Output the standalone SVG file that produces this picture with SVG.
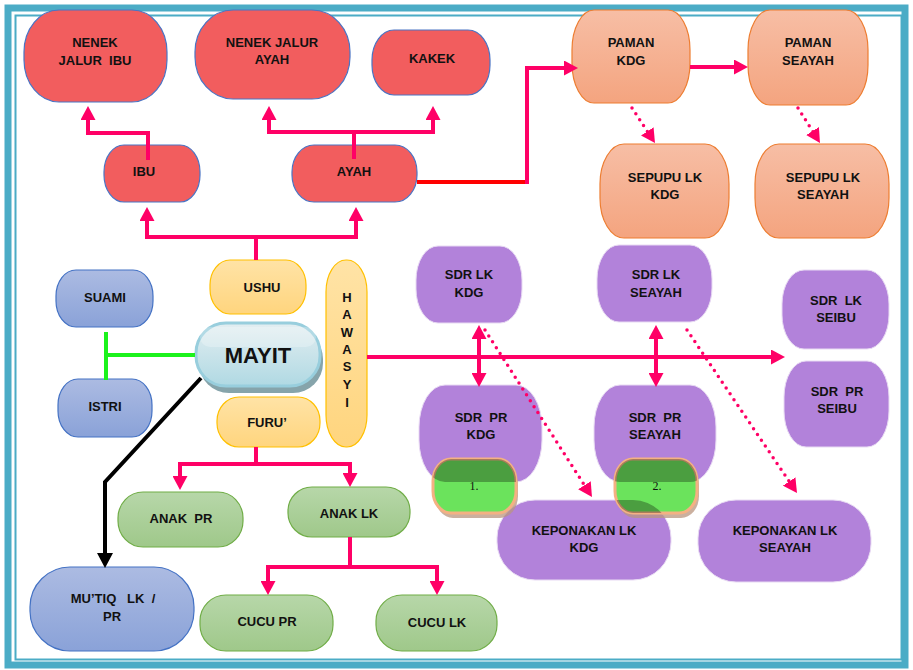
<svg xmlns="http://www.w3.org/2000/svg" width="913" height="670" viewBox="0 0 913 670">
<style>
.t{font-family:"Liberation Sans",Arial,sans-serif;font-weight:bold;font-size:13px;fill:#111;text-anchor:middle;white-space:pre}
.red{fill:#F25D5E;stroke:#4A74C4;stroke-width:1.2}
.org{fill:url(#gOrg);stroke:#ED7D31;stroke-width:1.2}
.pur{fill:#B282DA;stroke:#E8DAF3;stroke-width:1}
.grn{fill:url(#gGrn);stroke:#70AD47;stroke-width:1.2}
.blu{fill:url(#gBlu);stroke:#4472C4;stroke-width:1.2}
.yel{fill:url(#gYel);stroke:#FFC000;stroke-width:1.2}
.pk{fill:none;stroke:#FF0066;stroke-width:4}
.dot{fill:none;stroke:#FF0066;stroke-width:3.5;stroke-linecap:round;stroke-dasharray:0 7}
.bdg{fill:#6CE35C;stroke:#F4B183;stroke-width:3}
.num{font-family:"Liberation Serif","Times New Roman",serif;font-size:12px;fill:#111;text-anchor:middle}
</style>
<defs>
<linearGradient id="gOrg" x1="0" y1="0" x2="0" y2="1"><stop offset="0" stop-color="#F7BEA5"/><stop offset="1" stop-color="#F4A47F"/></linearGradient>
<linearGradient id="gGrn" x1="0" y1="0" x2="0" y2="1"><stop offset="0" stop-color="#B7D7A9"/><stop offset="1" stop-color="#9FC88A"/></linearGradient>
<linearGradient id="gBlu" x1="0" y1="0" x2="0" y2="1"><stop offset="0" stop-color="#ACBBE2"/><stop offset="1" stop-color="#8AA2D8"/></linearGradient>
<linearGradient id="gYel" x1="0" y1="0" x2="0" y2="1"><stop offset="0" stop-color="#FFE3A6"/><stop offset="1" stop-color="#FFD57E"/></linearGradient>
<linearGradient id="gMay" x1="0" y1="0" x2="0" y2="1"><stop offset="0" stop-color="#E3EEF1"/><stop offset="1" stop-color="#B0D9E3"/></linearGradient>
<marker id="ap" viewBox="0 0 14 15" refX="2" refY="7.5" markerWidth="14" markerHeight="15" markerUnits="userSpaceOnUse" orient="auto-start-reverse"><path d="M0,0 L14,7.5 L0,15 z" fill="#FF0066"/></marker>
<marker id="ab" viewBox="0 0 15 16" refX="2" refY="8" markerWidth="15" markerHeight="16" markerUnits="userSpaceOnUse" orient="auto"><path d="M0,0 L15,8 L0,16 z" fill="#000"/></marker>
<clipPath id="cb1"><rect x="433" y="459" width="83" height="54" rx="18" ry="22"/></clipPath>
<clipPath id="cb2"><rect x="615" y="459" width="82" height="54" rx="18" ry="22"/></clipPath>
</defs>
<rect x="0" y="0" width="913" height="670" fill="#fff"/>
<rect x="8" y="8" width="897" height="657" fill="none" stroke="#4BACC6" stroke-width="7"/>
<rect x="15.5" y="15.5" width="886" height="644" fill="none" stroke="#4BACC6" stroke-width="2"/>

<g id="nenek-ibu"><rect class="red" x="24" y="10" width="143" height="92" rx="35" ry="42"/><text class="t" x="95" y="47">NENEK</text><text class="t" x="95" y="65">JALUR  IBU</text></g>
<g id="nenek-ayah"><rect class="red" x="195" y="10" width="155" height="89" rx="38" ry="42"/><text class="t" x="272" y="47">NENEK JALUR</text><text class="t" x="272" y="64">AYAH</text></g>
<g id="kakek"><rect class="red" x="372" y="30" width="118" height="65" rx="22" ry="30"/><text class="t" x="432" y="63">KAKEK</text></g>
<g id="ibu"><rect class="red" x="104" y="145" width="96" height="57" rx="20" ry="27"/><text class="t" x="144" y="176">IBU</text></g>
<g id="ayah"><rect class="red" x="292" y="145" width="125" height="57" rx="22" ry="27"/><text class="t" x="354" y="176">AYAH</text></g>
<g id="paman-kdg"><rect class="org" x="572" y="10" width="118" height="93" rx="22" ry="40"/><text class="t" x="631" y="47">PAMAN</text><text class="t" x="631" y="65">KDG</text></g>
<g id="paman-seayah"><rect class="org" x="748" y="10" width="120" height="95" rx="22" ry="40"/><text class="t" x="808" y="47">PAMAN</text><text class="t" x="808" y="65">SEAYAH</text></g>
<g id="sepupu-kdg"><rect class="org" x="600" y="144" width="129" height="94" rx="24" ry="40"/><text class="t" x="665" y="182">SEPUPU LK</text><text class="t" x="665" y="199">KDG</text></g>
<g id="sepupu-seayah"><rect class="org" x="755" y="144" width="134" height="94" rx="24" ry="40"/><text class="t" x="823" y="182">SEPUPU LK</text><text class="t" x="823" y="199">SEAYAH</text></g>
<g id="ushu"><rect class="yel" x="210" y="260" width="96" height="54" rx="20" ry="25"/><text class="t" x="262" y="292">USHU</text></g>
<g id="hawasyi"><rect class="yel" x="326" y="260" width="41" height="187" rx="20" ry="32"/>
<text class="t" x="347" y="302">H</text><text class="t" x="347" y="319">A</text><text class="t" x="347" y="337">W</text><text class="t" x="347" y="354">A</text><text class="t" x="347" y="371">S</text><text class="t" x="347" y="389">Y</text><text class="t" x="347" y="407">I</text></g>
<g id="suami"><rect class="blu" x="56" y="270" width="97" height="57" rx="20" ry="26"/><text class="t" x="105" y="302">SUAMI</text></g>
<g id="istri"><rect class="blu" x="58" y="379" width="94" height="58" rx="20" ry="26"/><text class="t" x="105" y="411">ISTRI</text></g>
<g id="mayit"><rect x="199" y="329" width="124" height="64" rx="30" ry="30" fill="#86A4AB"/><rect x="196" y="323" width="124" height="63" rx="30" ry="30" fill="url(#gMay)" stroke="#98CEDD" stroke-width="3"/><rect x="200" y="327" width="116" height="20" rx="10" ry="10" fill="#fff" opacity="0.25"/><text x="258" y="363" style="font-family:'Liberation Sans',Arial,sans-serif;font-weight:bold;font-size:22px;fill:#111;text-anchor:middle">MAYIT</text></g>
<g id="furu"><rect class="yel" x="217" y="397" width="103" height="50" rx="22" ry="24"/><text class="t" x="267" y="427">FURU’</text></g>
<g id="sdr-lk-kdg"><rect class="pur" x="416" y="246" width="106" height="77" rx="22" ry="34"/><text class="t" x="469" y="279">SDR LK</text><text class="t" x="469" y="297">KDG</text></g>
<g id="sdr-lk-seayah"><rect class="pur" x="597" y="245" width="115" height="77" rx="22" ry="34"/><text class="t" x="656" y="279">SDR LK</text><text class="t" x="656" y="297">SEAYAH</text></g>
<g id="sdr-lk-seibu"><rect class="pur" x="782" y="270" width="107" height="79" rx="22" ry="34"/><text class="t" x="836" y="305">SDR  LK</text><text class="t" x="836" y="322">SEIBU</text></g>
<g id="sdr-pr-seibu"><rect class="pur" x="784" y="361" width="105" height="86" rx="22" ry="36"/><text class="t" x="837" y="396">SDR  PR</text><text class="t" x="837" y="413">SEIBU</text></g>
<g id="sdr-pr-kdg"><rect class="pur" x="419" y="385" width="123" height="97" rx="26" ry="42"/><text class="t" x="481" y="422">SDR  PR</text><text class="t" x="481" y="439">KDG</text></g>
<g id="sdr-pr-seayah"><rect class="pur" x="594" y="385" width="122" height="97" rx="26" ry="42"/><text class="t" x="655" y="422">SDR  PR</text><text class="t" x="655" y="439">SEAYAH</text></g>
<g id="kepo-kdg"><rect class="pur" x="497" y="500" width="174" height="80" rx="38" ry="38"/><text class="t" x="584" y="535">KEPONAKAN LK</text><text class="t" x="584" y="552">KDG</text></g>
<g id="kepo-seayah"><rect class="pur" x="698" y="500" width="173" height="82" rx="38" ry="38"/><text class="t" x="785" y="535">KEPONAKAN LK</text><text class="t" x="785" y="552">SEAYAH</text></g>
<g id="badge-1"><rect x="435" y="463" width="83" height="55" rx="18" ry="22" fill="#B9957F" opacity="0.75"/><rect class="bdg" x="433" y="459" width="83" height="54" rx="18" ry="22"/>
<g clip-path="url(#cb1)" opacity="0.3"><rect x="419" y="385" width="123" height="97" rx="26" ry="42"/><rect x="497" y="500" width="174" height="80" rx="38" ry="38"/></g>
<text class="num" x="474" y="490">1.</text></g>
<g id="badge-2"><rect x="617" y="463" width="82" height="55" rx="18" ry="22" fill="#B9957F" opacity="0.75"/><rect class="bdg" x="615" y="459" width="82" height="54" rx="18" ry="22"/>
<g clip-path="url(#cb2)" opacity="0.3"><rect x="594" y="385" width="122" height="97" rx="26" ry="42"/><rect x="497" y="500" width="174" height="80" rx="38" ry="38"/></g>
<text class="num" x="657" y="490">2.</text></g>
<g id="anak-pr"><rect class="grn" x="118" y="492" width="125" height="55" rx="25" ry="26"/><text class="t" x="181" y="523">ANAK  PR</text></g>
<g id="anak-lk"><rect class="grn" x="288" y="487" width="122" height="50" rx="24" ry="24"/><text class="t" x="349" y="518">ANAK LK</text></g>
<g id="mutiq"><rect class="blu" x="30" y="567" width="164" height="84" rx="40" ry="40"/><text class="t" x="113" y="603">MU’TIQ   LK  /</text><text class="t" x="112" y="621">PR</text></g>
<g id="cucu-pr"><rect class="grn" x="200" y="595" width="133" height="56" rx="26" ry="26"/><text class="t" x="267" y="626">CUCU PR</text></g>
<g id="cucu-lk"><rect class="grn" x="376" y="595" width="121" height="56" rx="26" ry="26"/><text class="t" x="437" y="627">CUCU LK</text></g>

<g id="connectors">
<path class="pk" d="M148,160 V133 H88 V118" marker-end="url(#ap)"/>
<path class="pk" d="M354,159 V132"/>
<path class="pk" d="M269,118 V132 H433 V118" marker-start="url(#ap)" marker-end="url(#ap)"/>
<path class="pk" d="M256,260 V237"/>
<path class="pk" d="M147,219 V237 H356 V219" marker-start="url(#ap)" marker-end="url(#ap)"/>
<path d="M417,182 H529" fill="none" stroke="#FF0000" stroke-width="4"/>
<path class="pk" d="M527,184 V68 H566" marker-end="url(#ap)"/>
<path class="pk" d="M690,67 H736" marker-end="url(#ap)"/>
<path class="dot" d="M632,108 L648.4,133" marker-end="url(#ap)"/>
<path class="dot" d="M798,108 L813.6,132.8" marker-end="url(#ap)"/>
<path class="dot" d="M485,330 L585.5,486.9" marker-end="url(#ap)"/>
<path class="dot" d="M687,330 L790.3,483.1" marker-end="url(#ap)"/>
<path class="pk" d="M479,337 V375" marker-start="url(#ap)" marker-end="url(#ap)"/>
<path class="pk" d="M656,337 V375" marker-start="url(#ap)" marker-end="url(#ap)"/>
<path class="pk" d="M367,357 H773" marker-end="url(#ap)"/>
<path d="M195,355 H106 M106,332 V380" fill="none" stroke="#1CF21C" stroke-width="4"/>
<path d="M201,378 L105,482 V555" fill="none" stroke="#000" stroke-width="4" marker-end="url(#ab)"/>
<path class="pk" d="M256,447 V464"/>
<path class="pk" d="M180,478 V464 H350 V475" marker-start="url(#ap)" marker-end="url(#ap)"/>
<path class="pk" d="M350,537 V567"/>
<path class="pk" d="M268,583 V567 H437 V583" marker-start="url(#ap)" marker-end="url(#ap)"/>
</g>
</svg>
